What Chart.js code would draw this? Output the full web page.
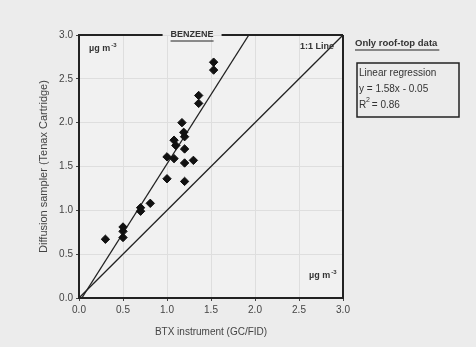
<!DOCTYPE html>
<html>
<head>
<meta charset="utf-8">
<script src="https://cdn.jsdelivr.net/npm/chart.js@4"></script>
<style>
  html, body { margin: 0; padding: 0; background: #ececec; }
  #wrap { width: 476px; height: 347px; }
</style>
</head>
<body>
<div id="wrap"><canvas id="myChart" width="476" height="347"></canvas></div>
<script>
// measured points, BTX instrument (x) vs diffusion sampler (y), µg m-3
const btxValues = [0.30, 0.50, 0.50, 0.50, 0.70, 0.70, 0.81, 1.00, 1.00, 1.08, 1.08, 1.10,
                   1.17, 1.19, 1.20, 1.20, 1.20, 1.20, 1.30, 1.36, 1.36, 1.53, 1.53];
const samplerValues = [0.67, 0.81, 0.76, 0.69, 1.03, 0.99, 1.08, 1.61, 1.36, 1.59, 1.80, 1.74,
                       2.00, 1.89, 1.84, 1.70, 1.54, 1.33, 1.57, 2.31, 2.22, 2.69, 2.60];
// regression y = 1.58x - 0.05, drawn inside the axis box
const regressionX = [0.032, 1.93];
const regressionY = [0, 3.0];
const oneToOneX = [0, 3];
const oneToOneY = [0, 3];
const tickValues = [0, 0.5, 1.0, 1.5, 2.0, 2.5, 3.0];

const toPoints = (xs, ys) => xs.map((x, i) => ({ x: x, y: ys[i] }));

const textColor = '#333';

const decor = {
  id: 'decor',
  beforeDraw(chart) {
    const c = chart.ctx, a = chart.chartArea;
    c.save();
    c.fillStyle = '#f1f1f1';
    c.fillRect(a.left, a.top, a.right - a.left, a.bottom - a.top);
    c.restore();
  },
  afterDraw(chart) {
    const c = chart.ctx, a = chart.chartArea;
    const xs = chart.scales.x;
    c.save();
    c.strokeStyle = '#222';
    c.lineWidth = 2;
    // top border with a gap for the title
    const gapL = xs.getPixelForValue(0.95), gapR = xs.getPixelForValue(1.62);
    c.beginPath();
    c.moveTo(a.left, a.top); c.lineTo(gapL, a.top);
    c.moveTo(gapR, a.top); c.lineTo(a.right, a.top);
    c.moveTo(a.right, a.top); c.lineTo(a.right, a.bottom);
    c.stroke();

    c.fillStyle = textColor;
    c.font = 'bold 9px "Liberation Sans", Arial, sans-serif';
    c.textAlign = 'center';
    c.textBaseline = 'middle';
    const tx = (gapL + gapR) / 2;
    c.fillText('BENZENE', tx, a.top);
    const tw = c.measureText('BENZENE').width;
    c.lineWidth = 1;
    c.beginPath();
    c.moveTo(tx - tw / 2, a.top + 6); c.lineTo(tx + tw / 2, a.top + 6);
    c.stroke();

    // units and 1:1 label
    c.font = 'bold 9px "Liberation Sans", Arial, sans-serif';
    c.textAlign = 'left';
    c.fillText('\u00b5g m', a.left + 10, a.top + 14);
    let w = c.measureText('\u00b5g m').width;
    c.font = 'bold 6px "Liberation Sans", Arial, sans-serif';
    c.fillText('-3', a.left + 10 + w + 1, a.top + 10);

    c.font = 'bold 9px "Liberation Sans", Arial, sans-serif';
    c.textAlign = 'right';
    c.fillText('1:1 Line', a.right - 9, a.top + 12);

    c.textAlign = 'left';
    c.fillText('\u00b5g m', a.right - 34, a.bottom - 22);
    w = c.measureText('\u00b5g m').width;
    c.font = 'bold 6px "Liberation Sans", Arial, sans-serif';
    c.fillText('-3', a.right - 34 + w + 1, a.bottom - 26);

    // right side notes
    const bx = a.right + 12;
    c.font = 'bold 9.5px "Liberation Sans", Arial, sans-serif';
    c.textAlign = 'left';
    c.fillText('Only roof-top data', bx, a.top + 8);
    const ow = c.measureText('Only roof-top data').width;
    c.lineWidth = 1.2;
    c.beginPath();
    c.moveTo(bx, a.top + 15); c.lineTo(bx + ow + 2, a.top + 15);
    c.stroke();

    c.lineWidth = 1.5;
    c.strokeRect(bx + 2, a.top + 28, 102, 54);
    c.font = '10px "Liberation Sans", Arial, sans-serif';
    c.fillText('Linear regression', bx + 4, a.top + 38);
    c.fillText('y = 1.58x - 0.05', bx + 4, a.top + 54);
    c.fillText('R', bx + 4, a.top + 70);
    c.font = '7px "Liberation Sans", Arial, sans-serif';
    c.fillText('2', bx + 11, a.top + 65);
    c.font = '10px "Liberation Sans", Arial, sans-serif';
    c.fillText(' = 0.86', bx + 14, a.top + 70);
    c.restore();
  }
};

new Chart(document.getElementById('myChart').getContext('2d'), {
  type: 'scatter',
  data: {
    datasets: [
      {
        label: 'Roof-top data',
        data: toPoints(btxValues, samplerValues),
        pointStyle: 'rectRot',
        pointRadius: 4.2,
        backgroundColor: '#111',
        borderColor: '#111',
        borderWidth: 1,
        order: 0
      },
      {
        label: 'Linear regression',
        type: 'line',
        data: toPoints(regressionX, regressionY),
        borderColor: '#222',
        borderWidth: 1.3,
        pointRadius: 0,
        fill: false,
        order: 1
      },
      {
        label: '1:1 Line',
        type: 'line',
        data: toPoints(oneToOneX, oneToOneY),
        borderColor: '#222',
        borderWidth: 1.3,
        pointRadius: 0,
        fill: false,
        order: 2
      }
    ]
  },
  options: {
    responsive: false,
    animation: false,
    layout: { padding: { left: 0, right: 133, top: 35, bottom: 0 } },
    plugins: { legend: { display: false }, tooltip: { enabled: false } },
    scales: {
      x: {
        type: 'linear', min: 0, max: 3,
        afterFit(s) { s.height = 49; },
        afterBuildTicks(s) { s.ticks = tickValues.map(v => ({ value: v })); },
        border: { display: true, color: '#222', width: 2 },
        grid: { color: '#dedede', lineWidth: 1, tickLength: 3, tickColor: '#444' },
        ticks: {
          color: '#444', padding: 3,
          font: { size: 10, family: '"Liberation Sans", Arial, sans-serif' },
          callback: v => v.toFixed(1)
        },
        title: {
          display: true, text: 'BTX instrument (GC/FID)', color: '#444',
          font: { size: 10, family: '"Liberation Sans", Arial, sans-serif' },
          padding: { top: 2, bottom: 9 }
        }
      },
      y: {
        type: 'linear', min: 0, max: 3,
        afterFit(s) { s.width = 79; },
        afterBuildTicks(s) { s.ticks = tickValues.map(v => ({ value: v })); },
        border: { display: true, color: '#222', width: 2 },
        grid: { color: '#dedede', lineWidth: 1, tickLength: 3, tickColor: '#444' },
        ticks: {
          color: '#444', padding: 3,
          font: { size: 10, family: '"Liberation Sans", Arial, sans-serif' },
          callback: v => v.toFixed(1)
        },
        title: {
          display: true, text: 'Diffusion sampler (Tenax Cartridge)', color: '#444',
          font: { size: 11, family: '"Liberation Sans", Arial, sans-serif' },
          padding: { top: 37, bottom: 0 }
        }
      }
    }
  },
  plugins: [decor]
});
</script>
</body>
</html>
